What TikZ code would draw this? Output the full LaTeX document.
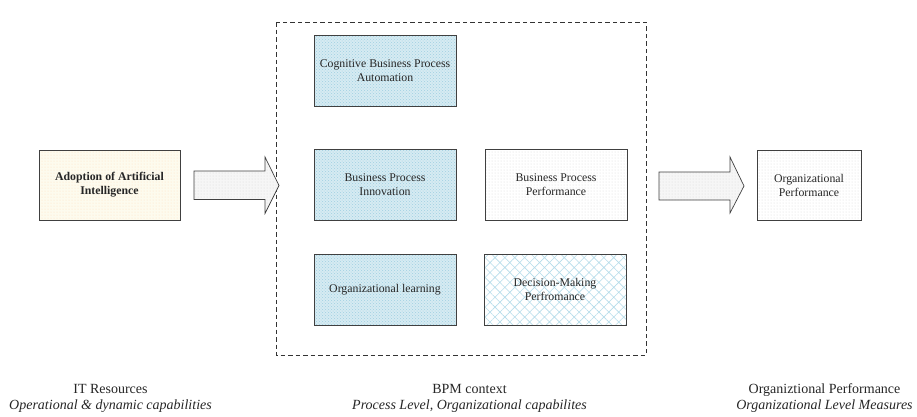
\documentclass[tikz,border=0pt]{standalone}
\usepackage{fontspec}
\setmainfont{Liberation Serif}
\usetikzlibrary{patterns,patterns.meta}

\definecolor{checkblue}{RGB}{214,235,242}
\definecolor{dotblue}{RGB}{160,208,226}
\definecolor{hatchblue}{RGB}{150,205,225}
\definecolor{paleyellow}{RGB}{253,251,238}

\begin{document}
\begin{tikzpicture}[x=1pt, y=-1pt,
                    line width=0.7pt,
                    font=\fontsize{11.8}{14}\selectfont,
                    text=black!85]
    \tikzstyle{stage}=[draw=black!75, align=center, inner sep=2pt, minimum width=142pt, minimum height=71pt]
    \tikzstyle{resource}=[stage, minimum width=141pt, minimum height=70pt, pattern=dots, pattern color=orange!25, preaction={fill=paleyellow}]
    \tikzstyle{capability}=[stage, pattern=crosshatch dots, pattern color=dotblue, preaction={fill=checkblue}]
    \tikzstyle{measure}=[stage, pattern=dots, pattern color=gray!30, preaction={fill=white}]
    \tikzstyle{decision}=[stage, pattern={Hatch[angle=45, distance=7pt, line width=0.6pt]}, pattern color=hatchblue!70, preaction={fill=white}]
    \tikzstyle{blockarrow}=[draw=black!75, line join=miter, pattern=dots, pattern color=gray!30, preaction={fill=gray!7}]
    \tikzstyle{caption}=[align=center, inner sep=0pt, font=\fontsize{14}{16}\selectfont]

    \useasboundingbox (0,0) rectangle (917,416);

    % BPM context frame
    \draw[dash pattern=on 4.5pt off 3pt, draw=black!80] (276,22) rectangle (646,355);

    \node[resource] (ai) at (109.5,185) {\textbf{Adoption of Artificial}\\\textbf{Intelligence}};

    \node[capability] (cbpa) at (385,70.5) {Cognitive Business Process\\Automation};
    \node[capability] (bpi) at (385,184.5) {Business Process\\Innovation};
    \node[capability] (ol) at (385,289.5) {Organizational learning};

    \node[measure] (bpp) at (556,184.5) {Business Process\\Performance};
    \node[decision] (dmp) at (555,289.5) {Decision-Making\\Perfromance};

    \node[measure, minimum width=104pt, minimum height=70pt] (op) at (809,185) {Organizational\\Performance};

    % block arrows between the stages
    \coordinate (toBpm) at (279,185.5);
    \coordinate (toOrg) at (744,186);
    \draw[blockarrow] (toBpm) ++(-85,-14.5) -- ++(71,0) -- ++(0,-14) -- (toBpm)
        -- ++(-14,28) -- ++(0,-14) -- ++(-71,0) -- cycle;
    \draw[blockarrow] (toOrg) ++(-85,-14) -- ++(71,0) -- ++(0,-15) -- (toOrg)
        -- ++(-14,27) -- ++(0,-13) -- ++(-71,0) -- cycle;

    \node[caption] (itRes) at (110.5,398) {IT Resources\\\textit{Operational \& dynamic capabilities}};
    \node[caption] (bpmCtx) at (469.5,398) {BPM context\\\textit{Process Level, Organizational capabilites}};
    \node[caption, anchor=east] (orgPerf) at (913,398) {Organiztional Performance\\\textit{Organizational Level Measures}};
\end{tikzpicture}
\end{document}
